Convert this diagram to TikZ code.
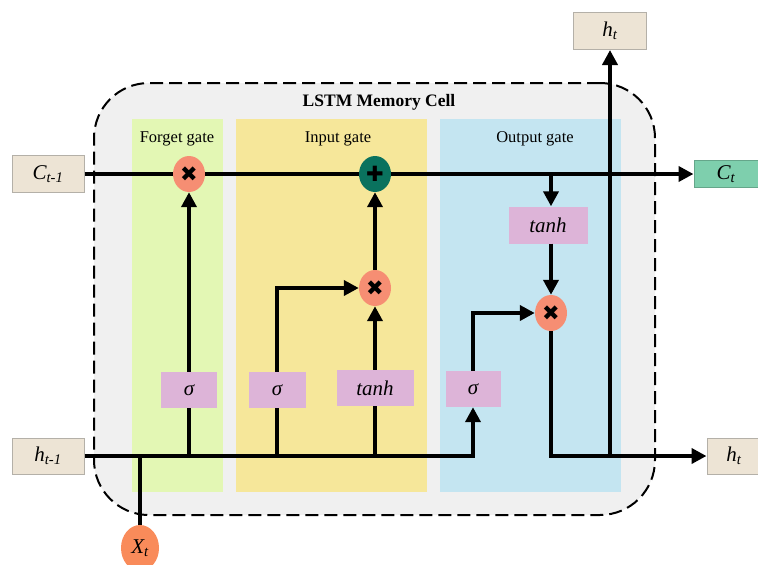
\documentclass[tikz,border=0pt]{standalone}
\usepackage{fontspec}
\setmainfont{Liberation Serif}
\newfontfamily\symfont{DejaVu Sans}
\usetikzlibrary{arrows.meta,shapes.geometric}
\definecolor{cellgray}{HTML}{F0F0F0}
\definecolor{fgreen}{HTML}{E3F7B4}
\definecolor{iyellow}{HTML}{F6E79A}
\definecolor{oblue}{HTML}{C4E5F1}
\definecolor{pinkbox}{HTML}{DDB4D8}
\definecolor{salmon}{HTML}{F68E73}
\definecolor{dgreen}{HTML}{0A725E}
\definecolor{beige}{HTML}{EDE4D5}
\definecolor{beigeline}{HTML}{B4B0A8}
\definecolor{ctgreen}{HTML}{7ECFAD}
\definecolor{xtorange}{HTML}{F98B5A}
\tikzset{
  cellbox/.style={draw, line width=2pt, dash pattern=on 13pt off 6pt, fill=cellgray, rounded corners=55pt, anchor=north west, inner sep=0},
  panel/.style={anchor=north west, inner sep=0},
  gatelbl/.style={font=\fontsize{16.5}{18}\selectfont},
  iobox/.style={draw=beigeline, line width=1pt, fill=beige, inner sep=0, font=\fontsize{21}{23}\selectfont\itshape},
  fnbox/.style={fill=pinkbox, inner sep=0, minimum height=36pt, font=\fontsize{21}{23}\selectfont\itshape},
  op/.style={ellipse, fill=salmon, minimum width=32pt, minimum height=36pt, inner sep=0, font=\symfont\fontsize{21}{21}\selectfont},
  flow/.style={line width=3.8pt},
  arr/.style={flow, -{Triangle[width=15pt,length=15pt]}},
}
\begin{document}
\begin{tikzpicture}[x=1pt,y=-1pt]
\useasboundingbox (0,0) rectangle (758,565);
% cell and panels
\node[cellbox, minimum width=561pt, minimum height=432pt] (cell) at (93,82) {};
\node[panel, fill=fgreen, minimum width=91pt, minimum height=373pt] (fpanel) at (132,119) {};
\node[panel, fill=iyellow, minimum width=191pt, minimum height=373pt] (ipanel) at (236,119) {};
\node[panel, fill=oblue, minimum width=181pt, minimum height=373pt] (opanel) at (440,119) {};
\node[font=\fontsize{17.5}{19}\selectfont\bfseries] (title) at (379,102) {LSTM Memory Cell};
\node[gatelbl] (flbl) at (177,139) {Forget gate};
\node[gatelbl] (ilbl) at (338,139) {Input gate};
\node[gatelbl] (olbl) at (535,139) {Output gate};
% inputs / outputs
\node[iobox, minimum width=72pt, minimum height=37pt] (ctm1) at (48,174) {C\textsubscript{t-1}};
\node[iobox, minimum width=72pt, minimum height=36pt] (hprev) at (48,456) {h\textsubscript{t-1}};
\node[iobox, draw=ctgreen!80!black, fill=ctgreen, minimum width=64pt, minimum height=27pt] (ct) at (726,174) {C\textsubscript{t}};
\node[iobox, minimum width=54pt, minimum height=36pt] (hout) at (734,456) {h\textsubscript{t}};
\node[iobox, minimum width=73pt, minimum height=37pt] (htop) at (610,31) {h\textsubscript{t}};
\node[ellipse, fill=xtorange, minimum width=38pt, minimum height=46pt, inner sep=0, font=\fontsize{21}{23}\selectfont\itshape] (xt) at (140,548) {X\textsubscript{t}};
% operators
\node[op] (fmul) at (189,174) {✖};
\node[op, fill=dgreen] (add) at (375,174) {✚};
\node[op] (imul) at (375,288) {✖};
\node[op] (omul) at (551,313) {✖};
% function boxes
\node[fnbox, minimum width=56pt] (fsig) at (189,390) {σ};
\node[fnbox, minimum width=57pt] (isig) at (277,390) {σ};
\node[fnbox, minimum width=77pt] (itanh) at (375,388) {tanh};
\node[fnbox, minimum width=55pt] (osig) at (473,389) {σ};
\node[fnbox, minimum width=79pt, minimum height=37pt] (otanh) at (548,225) {tanh};
% cell state line
\draw[flow] (ctm1.east) -- (fmul.west);
\draw[flow] (fmul.east) -- (add.west);
\draw[arr] (add.east) -- (ct.west);
% hidden line
\draw[arr] (hprev.east) -| (osig.south);
\draw[flow] (xt.north) -- (xt.north |- hprev.east);
% forget gate
\draw[flow] (fsig.south) -- (fsig.south |- hprev.east);
\draw[arr] (fsig.north) -- (fmul.south);
% input gate
\draw[flow] (isig.south) -- (isig.south |- hprev.east);
\draw[arr] (isig.north) |- (imul.west);
\draw[flow] (itanh.south) -- (itanh.south |- hprev.east);
\draw[arr] (itanh.north) -- (imul.south);
\draw[arr] (imul.north) -- (add.south);
% output gate
\draw[arr] (osig.north) |- (omul.west);
\draw[arr] (omul.north |- add.east) -- (omul.north |- otanh.north);
\draw[arr] (omul.north |- otanh.south) -- (omul.north);
\draw[arr] (omul.south) |- (hout.west);
\draw[arr] (htop.south |- hout.west) -- (htop.south);
\end{tikzpicture}
\end{document}
